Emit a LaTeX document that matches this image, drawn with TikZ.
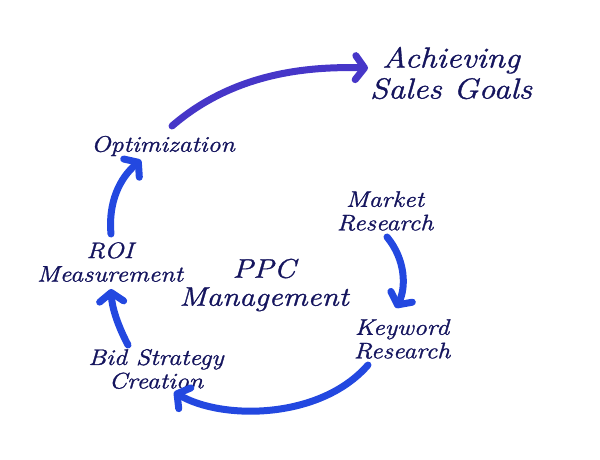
\documentclass[tikz,border=0pt]{standalone}
\usepackage{fontspec}
\setmainfont{Latin Modern Roman}[FakeStretch=1.15,FakeBold=1.2]
\usetikzlibrary{arrows.meta}
\definecolor{txt}{HTML}{15155E}
\definecolor{arrA}{HTML}{4636C8}
\definecolor{arrB}{HTML}{2348E0}
\tikzset{
  lbl/.style={text=txt, font=\itshape\fontsize{22.5}{23.5}\selectfont, align=center, inner sep=0pt},
  big/.style={lbl, font=\itshape\fontsize{29}{31}\selectfont},
  mid/.style={lbl, font=\itshape\fontsize{27}{28}\selectfont},
  flow/.style={line width=7pt, line cap=round, color=arrB,
    -{Straight Barb[length=9pt,width=24pt,round]}},
}
\begin{document}
\begin{tikzpicture}[x=1pt,y=-1pt]
\useasboundingbox (0,0) rectangle (600,459);
% labels
\node[big] (goal) at (451,73) {Achieving\\Sales Goals};
\node[lbl] (opt) at (163,146) {Optimization};
\node[lbl] (mkt) at (385,211) {Market\\Research};
\node[lbl] (roi) at (110,262) {ROI\\Measurement};
\node[mid] (ppc) at (264,285) {PPC\\Management};
\node[lbl] (kw) at (402,339) {Keyword\\Research};
\node[lbl] (bid) at (156,369) {Bid Strategy\\Creation};
% arrow ends
\coordinate (optS) at (172,126);
\coordinate (goalE) at (368,68);
\coordinate (roiS) at (111,234);
\coordinate (optE) at (141,160);
\coordinate (bidS) at (128,345);
\coordinate (roiE) at (111,289);
\coordinate (mktS) at (387,237);
\coordinate (kwE) at (396,308);
\coordinate (kwS) at (368,365);
\coordinate (bidE) at (174,392);
% arrows
\draw[flow, color=arrA] (optS) .. controls (230,76) and (300,66) .. (goalE);
\draw[flow] (roiS) .. controls (108,202) and (120,178) .. (optE);
\draw[flow] (bidS) .. controls (118,326) and (112,308) .. (roiE);
\draw[flow] (mktS) .. controls (406,260) and (406,288) .. (kwE);
\draw[flow] (kwS) .. controls (320,420) and (222,420) .. (bidE);
\end{tikzpicture}
\end{document}
